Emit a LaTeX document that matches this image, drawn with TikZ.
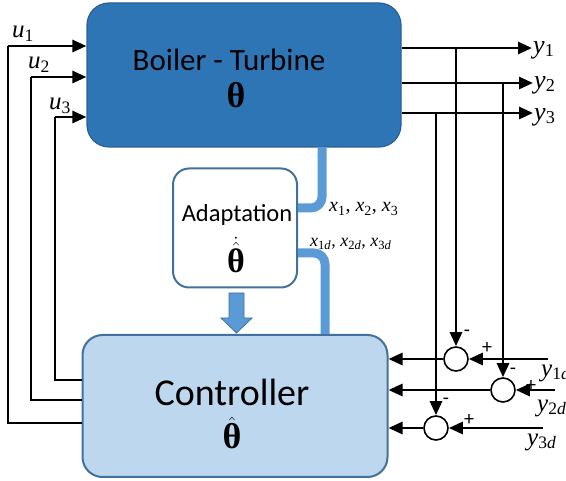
\documentclass[tikz,border=0pt]{standalone}
\usepackage{fontspec}
\setmainfont{Carlito}
\newfontfamily\tms{Liberation Serif}
\usetikzlibrary{arrows.meta}
\definecolor{boilf}{HTML}{2E75B6}
\definecolor{boild}{HTML}{2C5F94}
\definecolor{ctrlf}{HTML}{BDD7EE}
\definecolor{ctrld}{HTML}{41719C}
\definecolor{bl}{HTML}{5B9BD5}
\newcommand{\vs}[2]{\textit{#1}\textsubscript{#2}}
\newcommand{\thb}{\mbox{\tms\bfseries θ}}
\begin{document}
\begin{tikzpicture}[x=1pt,y=-1pt,
  sig/.style={line width=2.8pt,-{Triangle[length=14pt,width=12pt]}},
  fb/.style={line width=1.3pt},
  sumc/.style={circle,draw,line width=1.6pt,minimum size=24pt,inner sep=0pt,fill=white},
  bline/.style={line width=9pt,bl,rounded corners=11pt},
  lab/.style={inner sep=0pt,font=\tms\fontsize{20}{20}\selectfont},
  sgn/.style={inner sep=0pt,font=\fontsize{20}{20}\selectfont}]
\useasboundingbox (0,0) rectangle (566,481);
% blocks
\node[draw=boild,fill=boilf,line width=1.2pt,rounded corners=22pt,minimum width=314pt,minimum height=144pt] (boil) at (244,75) {};
\node[draw=ctrld,fill=ctrlf,line width=2pt,rounded corners=20pt,minimum width=305pt,minimum height=142pt] (ctrl) at (235,406) {};
\node[draw=ctrld,fill=white,line width=2pt,rounded corners=16pt,minimum width=124pt,minimum height=119pt] (ad) at (235,228) {};
% texts
\node[inner sep=0pt] (tbt) at (229,60) {\fontsize{31}{34}\selectfont Boiler - Turbine};
\node[inner sep=0pt] (tth) at (236,95) {\fontsize{36}{36}\selectfont\thb};
\node[inner sep=0pt] (tc) at (232,392) {\fontsize{38}{42}\selectfont Controller};
\node[inner sep=0pt] (tch) at (232,433) {\fontsize{36}{36}\selectfont $\hat{\thb}$};
\node[inner sep=0pt] (ta) at (237,215) {\fontsize{24.5}{26}\selectfont Adaptation};
\node[inner sep=0pt] (tah) at (236,255) {\fontsize{34}{34}\selectfont $\dot{\hat{\thb}}$};
% blue lines
\draw[bline] (322,147) -- (322,208) -- (ad.east |- 0,208);
\draw[bline] (ad.east |- 0,253) -- (325,253) -- (325,334);
\draw[ctrld,fill=bl,line width=0.8pt] (229,293) -- (244,293) -- (244,318) -- (252,318) -- (236.5,333) -- (221,318) -- (229,318) -- cycle;
\node[lab,anchor=west] (lx) at (329,209) {\vs{x}{1}, \vs{x}{2}, \vs{x}{3}};
\node[lab,font=\tms\fontsize{18}{18}\selectfont,anchor=west] (lxd) at (310,244) {\vs{x}{1\textit{d}}, \vs{x}{2\textit{d}}, \vs{x}{3\textit{d}}};
% inputs
\coordinate (u1) at (8,46);
\coordinate (u2) at (31,77);
\coordinate (u3) at (55,117);
\draw[sig] (u1) -- (boil.west |- u1);
\draw[sig] (u2) -- (boil.west |- u2);
\draw[sig] (u3) -- (boil.west |- u3);
\draw[fb] (u1) -- (8,423) -- (ctrl.west |- 0,423);
\draw[fb] (u2) -- (31,400) -- (ctrl.west |- 0,400);
\draw[fb] (u3) -- (55,380) -- (ctrl.west |- 0,380);
\node[lab,font=\tms\fontsize{25}{25}\selectfont] (lu1) at (23,34) {\vs{u}{1}};
\node[lab,font=\tms\fontsize{25}{25}\selectfont] (lu2) at (39,65) {\vs{u}{2}};
\node[lab,font=\tms\fontsize{25}{25}\selectfont] (lu3) at (60,106) {\vs{u}{3}};
% outputs
\coordinate (y1) at (532,48);
\coordinate (y2) at (533,83);
\coordinate (y3) at (533,113);
\draw[sig] (boil.east |- y1) -- (y1);
\draw[sig] (boil.east |- y2) -- (y2);
\draw[sig] (boil.east |- y3) -- (y3);
\node[lab,font=\tms\fontsize{26}{26}\selectfont,anchor=west] (ly1) at (533,50) {\vs{y}{1}};
\node[lab,font=\tms\fontsize{26}{26}\selectfont,anchor=west] (ly2) at (534,85) {\vs{y}{2}};
\node[lab,font=\tms\fontsize{26}{26}\selectfont,anchor=west] (ly3) at (534,117) {\vs{y}{3}};
% summing junctions
\node[sumc] (c1) at (456,359) {};
\node[sumc] (c2) at (503,390) {};
\node[sumc] (c3) at (436,428) {};
\draw[sig] (456,48) -- (c1.north);
\draw[sig] (503,83) -- (c2.north);
\draw[sig] (436,113) -- (c3.north);
\draw[sig] (c1.west) -- (ctrl.east |- c1.west);
\draw[sig] (c2.west) -- (ctrl.east |- c2.west);
\draw[sig] (c3.west) -- (ctrl.east |- c3.west);
\coordinate (r1) at (548,359);
\coordinate (r2) at (555,390);
\coordinate (r3) at (543,428);
\draw[sig] (r1) -- (c1.east);
\draw[sig] (r2) -- (c2.east);
\draw[sig] (r3) -- (c3.east);
\node[lab,font=\tms\fontsize{25}{25}\selectfont,anchor=west] (ly1d) at (541,373) {\vs{y}{1\textit{d}}};
\node[lab,font=\tms\fontsize{25}{25}\selectfont,anchor=west] (ly2d) at (537,408) {\vs{y}{2\textit{d}}};
\node[lab,font=\tms\fontsize{25}{25}\selectfont,anchor=west] (ly3d) at (527,442) {\vs{y}{3\textit{d}}};
\node[sgn] (m1) at (467,333) {-};
\node[sgn] (p1) at (487,348) {+};
\node[sgn] (m2) at (513,371) {-};
\node[sgn] (p2) at (531,386) {+};
\node[sgn] (m3) at (446,401) {-};
\node[sgn] (p3) at (469,420) {+};
\end{tikzpicture}
\end{document}
